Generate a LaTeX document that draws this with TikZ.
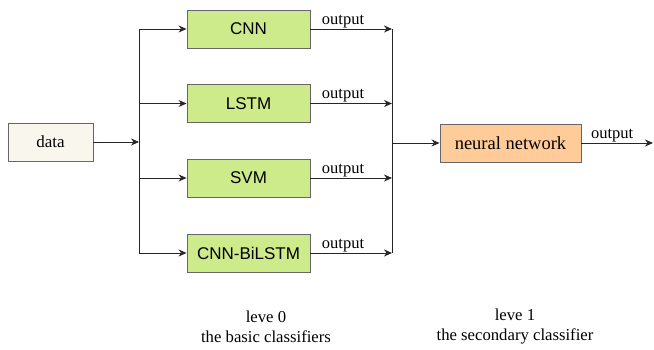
\documentclass[tikz,border=0pt]{standalone}
\usepackage{fontspec}
\setmainfont{Liberation Serif}
\setsansfont{Liberation Sans}
\usetikzlibrary{arrows.meta}
\definecolor{gfill}{HTML}{CDEB8B}
\definecolor{ofill}{HTML}{FFCC99}
\definecolor{dfill}{HTML}{F9F7ED}
\definecolor{bord}{HTML}{666666}
\definecolor{lcol}{HTML}{262626}
\tikzset{
  box/.style={draw=bord, line width=0.9pt, inner sep=0pt, minimum height=38pt},
  gbox/.style={box, fill=gfill, minimum width=123pt, font=\sffamily\fontsize{17}{20}\selectfont},
  dbox/.style={box, fill=dfill, minimum width=85pt, font=\fontsize{17}{20}\selectfont},
  obox/.style={box, fill=ofill, minimum width=141pt, font=\fontsize{18.5}{22}\selectfont},
  conn/.style={draw=lcol, line width=0.9pt},
  arr/.style={conn, -{Stealth[length=8pt,width=7pt]}},
  lbl/.style={font=\fontsize{16.5}{20}\selectfont, inner sep=1pt, anchor=south},
  captxt/.style={font=\fontsize{16.7}{20}\selectfont, align=center, inner sep=0pt}
}
\begin{document}
\begin{tikzpicture}[x=1pt,y=-1pt]
\useasboundingbox (0,0) rectangle (654,350);
\node[dbox] (data) at (50.5,142) {data};
\node[gbox] (cnn) at (248.5,29) {CNN};
\node[gbox] (lstm) at (248.5,103.5) {LSTM};
\node[gbox] (svm) at (248.5,178) {SVM};
\node[gbox] (bil) at (248.5,253) {CNN-BiLSTM};
\node[obox] (nn) at (510.5,143) {neural network};
\coordinate (split) at (139,142);
\coordinate (merge) at (392,143);
\coordinate (out) at (653,143);
\draw[arr] (data.east) -- (split);
\draw[conn] (split |- cnn.west) -- (split |- bil.west);
\draw[arr] (split |- cnn.west) -- (cnn.west);
\draw[arr] (split |- lstm.west) -- (lstm.west);
\draw[arr] (split |- svm.west) -- (svm.west);
\draw[arr] (split |- bil.west) -- (bil.west);
\draw[conn] (merge |- cnn.east) -- (merge |- bil.east);
\draw[arr] (cnn.east) -- (merge |- cnn.east) node[lbl, pos=0.4] {output};
\draw[arr] (lstm.east) -- (merge |- lstm.east) node[lbl, pos=0.4] {output};
\draw[arr] (svm.east) -- (merge |- svm.east) node[lbl, pos=0.4] {output};
\draw[arr] (bil.east) -- (merge |- bil.east) node[lbl, pos=0.4] {output};
\draw[arr] (merge) -- (nn.west);
\draw[arr] (nn.east) -- (out) node[lbl, pos=0.43] {output};
\node[captxt] (cap0) at (266,327) {leve 0\\the basic classifiers};
\node[captxt] (cap1) at (515,327) {leve 1\\the secondary classifier};
\end{tikzpicture}
\end{document}
